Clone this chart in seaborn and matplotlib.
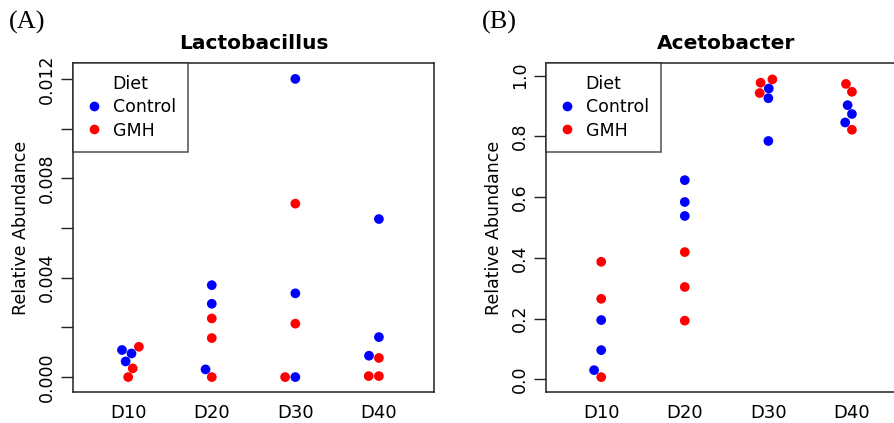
import pandas as pd
import numpy as np
import matplotlib
matplotlib.use('Agg')
import matplotlib.pyplot as plt
import seaborn as sns

days = ['D10', 'D20', 'D30', 'D40']
diets = ['Control', 'GMH']

# Lactobacillus relative abundance, per day
lacto_control = [[0.00095, 0.00109, 0.00063],
                 [0.00370, 0.00295, 0.00031],
                 [0.01200, 0.00337, 0.00000],
                 [0.00636, 0.00161, 0.00086]]
lacto_gmh = [[0.00122, 0.00035, 0.00000],
             [0.00236, 0.00157, 0.00000],
             [0.00698, 0.00215, 0.00000],
             [0.00077, 0.00004, 0.00004]]

# Acetobacter relative abundance, per day
aceto_control = [[0.195, 0.096, 0.030],
                 [0.656, 0.584, 0.538],
                 [0.958, 0.926, 0.785],
                 [0.903, 0.874, 0.846]]
aceto_gmh = [[0.387, 0.265, 0.007],
             [0.419, 0.304, 0.193],
             [0.988, 0.977, 0.943],
             [0.973, 0.947, 0.822]]


def to_frame(control, gmh):
    rows = []
    for i, d in enumerate(days):
        for v in control[i]:
            rows.append((d, 'Control', v))
        for v in gmh[i]:
            rows.append((d, 'GMH', v))
    return pd.DataFrame(rows, columns=['Day', 'Diet', 'Abundance'])


df_a = to_frame(lacto_control, lacto_gmh)
df_b = to_frame(aceto_control, aceto_gmh)

sns.set_style('white')
plt.rcParams['font.family'] = ['DejaVu Sans']
plt.rcParams['text.color'] = 'black'
plt.rcParams['xtick.color'] = 'black'
plt.rcParams['ytick.color'] = 'black'
plt.rcParams['axes.labelcolor'] = 'black'

fig = plt.figure(figsize=(8.95, 4.23), dpi=100)
ax_a = fig.add_axes([0.0816, 0.0733, 0.4034, 0.7778])
ax_b = fig.add_axes([0.6101, 0.0733, 0.4034, 0.7778])

panels = [
    (ax_a, df_a, 'Lactobacillus', (-0.0006, 0.01264),
     np.arange(0, 0.0121, 0.002), ['0.000', '', '0.004', '', '0.008', '', '0.012'], '(A)'),
    (ax_b, df_b, 'Acetobacter', (-0.042, 1.042),
     np.arange(0, 1.01, 0.2), ['0.0', '0.2', '0.4', '0.6', '0.8', '1.0'], '(B)'),
]

for ax, df, title, ylim, yticks, ylabels, tag in panels:
    sns.swarmplot(data=df, x='Day', y='Abundance', hue='Diet', order=days,
                  hue_order=diets, palette={'Control': '#0000ff', 'GMH': '#ff0000'},
                  size=7, linewidth=0, ax=ax)
    ax.set_xlim(-0.66, 3.66)
    ax.set_ylim(*ylim)
    ax.set_yticks(yticks)
    ax.set_yticklabels(ylabels, rotation=90, va='center', fontsize=12.5)
    ax.tick_params(axis='y', direction='out', length=9, width=1, left=True,
                   color='#222222', pad=3)
    ax.tick_params(axis='x', length=0, pad=9, labelsize=13)
    ax.set_xlabel('')
    ax.set_ylabel('Relative Abundance', fontsize=12.5, labelpad=6)
    ax.set_title(title, fontsize=14.5, fontweight='bold', pad=10)
    for s in ax.spines.values():
        s.set_color('#222222')
        s.set_linewidth(1.1)
    leg = ax.legend(title='Diet', loc='upper left', bbox_to_anchor=(0, 1),
                    borderaxespad=0, fancybox=False, edgecolor='#222222',
                    fontsize=12.5, title_fontsize=12.5, markerscale=1.0,
                    handlelength=1.0, handletextpad=0.6, borderpad=0.7,
                    labelspacing=0.3)
    leg.get_frame().set_linewidth(1.1)
    fig.text(ax.get_position().x0 - 0.072, 0.975, tag, fontsize=19,
             family='Liberation Serif', va='top', ha='left')

fig.savefig('out.png', dpi=100)
